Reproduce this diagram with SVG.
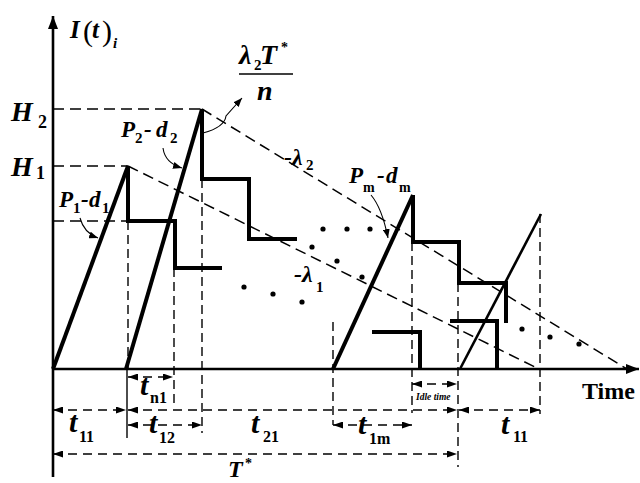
<svg xmlns="http://www.w3.org/2000/svg" width="640" height="483" viewBox="0 0 640 483">
<defs>
<marker id="ah" markerUnits="userSpaceOnUse" markerWidth="10" markerHeight="7" refX="10" refY="3.5" orient="auto-start-reverse"><path d="M0,0 L10,3.5 L0,7 z" fill="#000"/></marker>
<marker id="ahs" markerUnits="userSpaceOnUse" markerWidth="9" markerHeight="7" refX="9" refY="3.5" orient="auto"><path d="M0,0 L9,3.5 L0,7 z" fill="#000"/></marker>
<marker id="axa" markerUnits="userSpaceOnUse" markerWidth="13" markerHeight="10" refX="13" refY="5" orient="auto"><path d="M0,0 L13,5 L0,10 z" fill="#000"/></marker>
<style>
.ax{stroke:#000;stroke-width:2.6;fill:none}
.thick{stroke:#000;stroke-width:4;fill:none;stroke-linejoin:miter}
.mid{stroke:#000;stroke-width:2.6;fill:none}
.dl{stroke:#000;stroke-width:1.5;fill:none;stroke-dasharray:11 6}
.dv{stroke:#000;stroke-width:1.4;fill:none;stroke-dasharray:9 5}
.dim{stroke:#000;stroke-width:1.5;fill:none;stroke-dasharray:9 6;marker-start:url(#ah);marker-end:url(#ah)}
.thin{stroke:#000;stroke-width:1.4;fill:none}
.cv{stroke:#000;stroke-width:1.1;fill:none;marker-end:url(#ahs)}
.m{font-family:"Liberation Serif","Times New Roman",serif;font-weight:bold;font-style:italic;fill:#000}
.s{font-family:"Liberation Serif","Times New Roman",serif;font-weight:bold;fill:#000}
.dot{fill:#000}
</style>
</defs>

<g id="axes">
<line class="ax" x1="53" y1="477" x2="53" y2="16" marker-end="url(#axa)"/>
<line class="ax" x1="53" y1="369" x2="639" y2="369" marker-end="url(#axa)"/>
</g>

<g id="guides">
<line class="dl" x1="53" y1="109" x2="202" y2="109"/>
<line class="dl" x1="53" y1="166" x2="128" y2="166"/>
<line class="dl" x1="53" y1="221" x2="128" y2="221"/>
<line class="dl" x1="202" y1="109" x2="627" y2="369"/>
<line class="dl" x1="128" y1="166" x2="539" y2="369"/>
<line class="dv" x1="128" y1="221" x2="128" y2="369"/>
<line class="thin" x1="127" y1="369" x2="127" y2="438"/>
<line class="dv" x1="174" y1="268" x2="174" y2="404"/>
<line class="dv" x1="202" y1="179" x2="202" y2="433"/>
<line class="dv" x1="333" y1="322" x2="333" y2="425"/>
<line class="dv" x1="412" y1="242" x2="412" y2="413"/>
<line class="dv" x1="458" y1="283" x2="458" y2="467"/>
<line class="dv" x1="540" y1="214" x2="540" y2="414"/>
</g>

<g id="inventory">
<line class="thick" x1="53" y1="369" x2="128" y2="166"/>
<polyline class="thick" points="128,166 128,221 175,221 175,268 222,268"/>
<line class="thick" x1="126" y1="369" x2="202" y2="109"/>
<polyline class="thick" points="202,109 202,179 249,179 249,239 297,239"/>
<line class="thick" x1="333" y1="369" x2="413" y2="195"/>
<polyline class="thick" points="413,195 413,242 459,242 459,283 506,283 506,323"/>
<polyline class="thick" points="372,332 420,332 420,369"/>
<polyline class="thick" points="450,321 497,321 497,369"/>
<line class="mid" x1="460" y1="369" x2="541" y2="214"/>
</g>

<g id="dots">
<circle class="dot" cx="244" cy="287" r="2.6"/>
<circle class="dot" cx="273" cy="294" r="2.6"/>
<circle class="dot" cx="302" cy="302" r="2.6"/>
<circle class="dot" cx="312" cy="247" r="2.6"/>
<circle class="dot" cx="337" cy="261" r="2.6"/>
<circle class="dot" cx="362" cy="277" r="2.6"/>
<circle class="dot" cx="323" cy="229" r="2.6"/>
<circle class="dot" cx="347" cy="229" r="2.6"/>
<circle class="dot" cx="370" cy="229" r="2.6"/>
<circle class="dot" cx="522" cy="329" r="2.6"/>
<circle class="dot" cx="550" cy="337" r="2.6"/>
<circle class="dot" cx="579" cy="344" r="2.6"/>
</g>

<g id="connectors">
<path class="cv" d="M80,218 Q84,233 98,238"/>
<path class="cv" d="M163,148 Q165,163 182,168"/>
<path class="cv" d="M371,195 Q382,208 388,238"/>
<path class="cv" d="M203,133 C218,129 225,124 226,116 L242,98"/>
<line class="dim" x1="128" y1="377" x2="173" y2="377"/>
<line class="dim" x1="53" y1="410" x2="126" y2="410"/>
<line class="dim" x1="128" y1="410" x2="457" y2="410"/>
<line class="dim" x1="128" y1="425" x2="202" y2="425"/>
<line class="dim" x1="333" y1="425" x2="412" y2="425"/>
<line class="dim" x1="412" y1="384" x2="457" y2="384"/>
<line class="dim" x1="459" y1="410" x2="540" y2="410"/>
<line class="dim" x1="53" y1="454" x2="457" y2="454"/>
<line class="thin" x1="239" y1="74" x2="293" y2="74"/>
</g>

<g id="labels">
<text class="m" x="70" y="38" font-size="25">I</text>
<text x="83" y="41" font-size="30" font-family="Liberation Serif,serif">(</text>
<text class="m" x="92" y="38" font-size="25">t</text>
<text x="102" y="41" font-size="30" font-family="Liberation Serif,serif">)</text>
<text class="m" x="113" y="48" font-size="15">i</text>

<text class="m" x="239" y="64" font-size="28">λ</text>
<text class="s" x="254" y="70" font-size="15">2</text>
<text class="m" x="260" y="64" font-size="28">T</text>
<text class="s" x="281" y="52" font-size="14">*</text>
<text class="m" x="257" y="100" font-size="28">n</text>

<text class="m" x="11" y="121" font-size="28">H</text>
<text class="s" x="38" y="128" font-size="18">2</text>
<text class="m" x="11" y="176" font-size="28">H</text>
<text class="s" x="36" y="179" font-size="18">1</text>

<text class="m" x="121" y="137" font-size="23">P</text>
<text class="s" x="135" y="143" font-size="15">2</text>
<text class="m" x="144" y="137" font-size="23">-</text>
<text class="m" x="156" y="137" font-size="23">d</text>
<text class="s" x="170" y="143" font-size="15">2</text>

<text class="m" x="59" y="207" font-size="23">P</text>
<text class="s" x="73" y="213" font-size="15">1</text>
<text class="m" x="81" y="207" font-size="23">-</text>
<text class="m" x="89" y="207" font-size="23">d</text>
<text class="s" x="102" y="213" font-size="15">1</text>

<text class="m" x="349" y="183" font-size="23">P</text>
<text class="s" x="363" y="192" font-size="14">m</text>
<text class="m" x="377" y="183" font-size="23">-</text>
<text class="m" x="386" y="183" font-size="23">d</text>
<text class="s" x="399" y="192" font-size="14">m</text>

<text class="m" x="284" y="165" font-size="24">-λ</text>
<text class="s" x="306" y="170" font-size="15">2</text>
<text class="m" x="294" y="282" font-size="24">-λ</text>
<text class="s" x="316" y="292" font-size="15">1</text>

<text class="s" x="582" y="399" font-size="24">Time</text>
<text class="m" x="416" y="400" font-size="9.5">Idle time</text>

<text class="m" x="140" y="395" font-size="30">t</text>
<text class="s" x="150" y="403" font-size="16">n1</text>
<text class="m" x="69" y="432" font-size="30">t</text>
<text class="s" x="79" y="442" font-size="16">11</text>
<text class="m" x="149" y="433" font-size="30">t</text>
<text class="s" x="159" y="443" font-size="16">12</text>
<text class="m" x="251" y="433" font-size="30">t</text>
<text class="s" x="263" y="442" font-size="16">21</text>
<text class="m" x="358" y="434" font-size="30">t</text>
<text class="s" x="369" y="444" font-size="16">1m</text>
<text class="m" x="501" y="434" font-size="30">t</text>
<text class="s" x="513" y="442" font-size="16">11</text>
<text class="m" x="228" y="477" font-size="24">T</text>
<text class="s" x="245" y="468" font-size="14">*</text>
</g>
</svg>
